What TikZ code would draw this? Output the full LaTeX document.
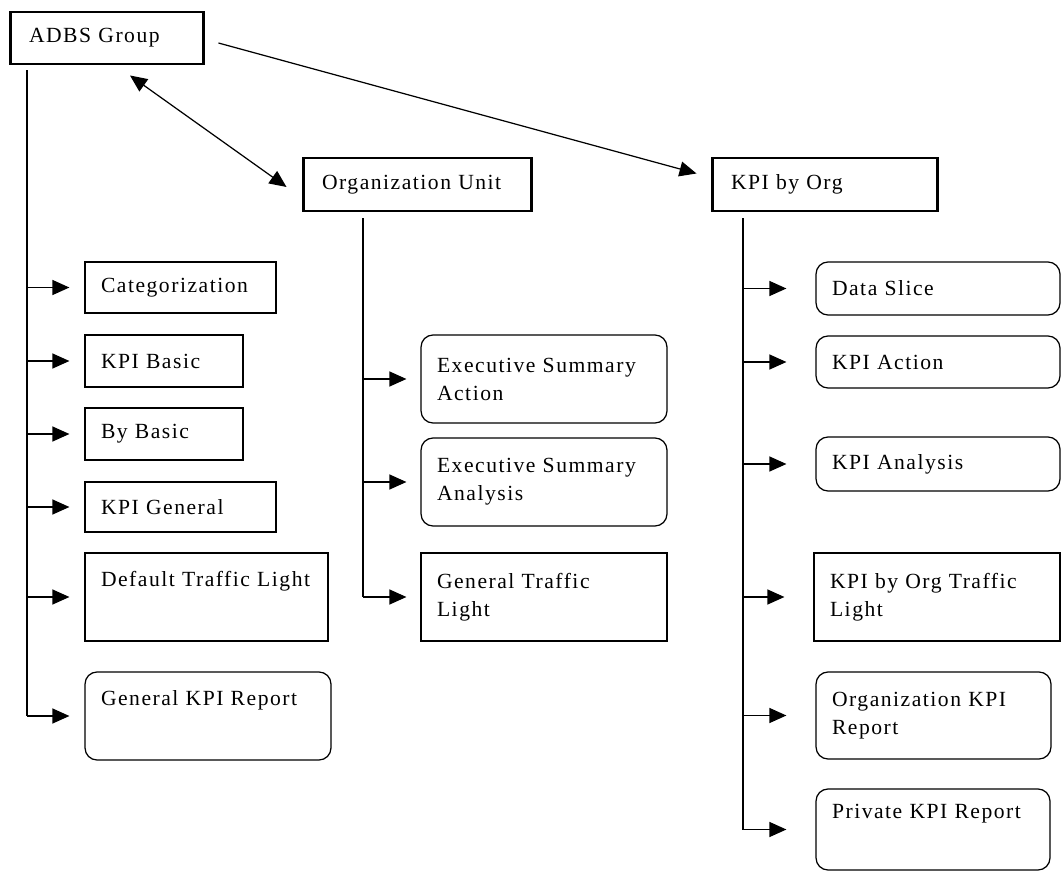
\documentclass[tikz,border=0pt]{standalone}
\usepackage{fontspec}
\setmainfont{Liberation Serif}[LetterSpace=7, WordSpace=0.6]
\usetikzlibrary{arrows.meta,positioning}

\tikzset{
    head box/.style={draw, line width=1.7pt, align=left, inner xsep=0.38cm, inner ysep=0pt},
    leaf box/.style={draw, line width=0.7pt, align=left, inner xsep=0.32cm, inner ysep=0pt},
    soft box/.style={leaf box, rounded corners=0.24cm},
    branch/.style={line width=0.7pt, -{Triangle[length=0.34cm,width=0.3cm]}},
    trunk/.style={line width=0.7pt},
}

\begin{document}
\begin{tikzpicture}[x=0.02cm, y=-0.02cm, font=\fontsize{12.3}{15.9}\selectfont]
    \useasboundingbox (0,0) rectangle (1063,872);

    \node[head box, text width=3.12cm, minimum height=1.04cm] (adbs_group) at (107,38) {ADBS Group};
    \node[head box, text width=3.82cm, minimum height=1.06cm] (org_unit) at (417.5,184.5) {Organization Unit};
    \node[head box, text width=3.76cm, minimum height=1.06cm] (kpi_org) at (825,184.5) {KPI by Org};

    \draw [branch] ([shift={(13,5)}]adbs_group.east) -- ([shift={(-14,-11)}]kpi_org.west);
    \draw [line width=0.7pt, {Triangle[length=0.34cm,width=0.3cm]}-{Triangle[length=0.34cm,width=0.3cm]}]
        ([shift={(23,10)}]adbs_group.south) -- ([shift={(-15,2.5)}]org_unit.west);

    \node[leaf box, text width=3.18cm, minimum height=1.02cm] (categorization) at (180.5,287.5) {Categorization};
    \node[leaf box, text width=2.52cm, minimum height=1.04cm] (kpi_basic) at (164,361) {KPI Basic};
    \node[leaf box, text width=2.52cm, minimum height=1.04cm] (by_basic) at (164,434) {By Basic};
    \node[leaf box, text width=3.18cm, minimum height=1.00cm] (kpi_general) at (180.5,507) {KPI General};
    \node[leaf box, text width=4.22cm, minimum height=1.76cm] (default_light) at (206.5,597) {Default Traffic Light\\ \strut};
    \node[soft box, text width=4.28cm, minimum height=1.76cm] (general_report) at (208,716) {General KPI Report\\ \strut};

    \coordinate (left_top) at (27,70);
    \draw [trunk] (left_top) -- (left_top |- general_report.west);
        \draw [branch, shorten >=0.3cm] (left_top |- categorization.west) -- (categorization.west);
        \draw [branch, shorten >=0.3cm] (left_top |- kpi_basic.west) -- (kpi_basic.west);
        \draw [branch, shorten >=0.3cm] (left_top |- by_basic.west) -- (by_basic.west);
        \draw [branch, shorten >=0.3cm] (left_top |- kpi_general.west) -- (kpi_general.west);
        \draw [branch, shorten >=0.3cm] (left_top |- default_light.west) -- (default_light.west);
        \draw [branch, shorten >=0.3cm] (left_top |- general_report.west) -- (general_report.west);

    \node[soft box, text width=4.28cm, minimum height=1.76cm] (exec_action) at (544,379) {Executive Summary\\Action};
    \node[soft box, text width=4.28cm, minimum height=1.76cm] (exec_analysis) at (544,482) {Executive Summary\\Analysis};
    \node[leaf box, text width=4.28cm, minimum height=1.76cm] (general_light) at (544,597) {General Traffic\\Light};

    \coordinate (mid_top) at (363,218);
    \draw [trunk] (mid_top) -- (mid_top |- general_light.west);
        \draw [branch, shorten >=0.28cm] (mid_top |- exec_action.west) -- (exec_action.west);
        \draw [branch, shorten >=0.28cm] (mid_top |- exec_analysis.west) -- (exec_analysis.west);
        \draw [branch, shorten >=0.28cm] (mid_top |- general_light.west) -- (general_light.west);

    \node[soft box, text width=4.24cm, minimum height=1.06cm] (data_slice) at (938,288.5) {Data Slice};
    \node[soft box, text width=4.24cm, minimum height=1.04cm] (kpi_action) at (938,362) {KPI Action};
    \node[soft box, text width=4.24cm, minimum height=1.08cm] (kpi_analysis) at (938,464) {KPI Analysis};
    \node[leaf box, text width=4.28cm, minimum height=1.76cm] (org_light) at (937,597) {KPI by Org Traffic\\Light};
    \node[soft box, text width=4.06cm, minimum height=1.74cm] (org_report) at (933.5,715.5) {Organization KPI\\Report};
    \node[soft box, text width=4.04cm, minimum height=1.62cm] (private_report) at (933,829.5) {Private KPI Report\\ \strut};

    \coordinate (right_top) at (743,218);
    \draw [trunk] (right_top) -- (right_top |- private_report.west);
        \draw [branch, shorten >=0.58cm] (right_top |- data_slice.west) -- (data_slice.west);
        \draw [branch, shorten >=0.58cm] (right_top |- kpi_action.west) -- (kpi_action.west);
        \draw [branch, shorten >=0.58cm] (right_top |- kpi_analysis.west) -- (kpi_analysis.west);
        \draw [branch, shorten >=0.58cm] (right_top |- org_light.west) -- (org_light.west);
        \draw [branch, shorten >=0.58cm] (right_top |- org_report.west) -- (org_report.west);
        \draw [branch, shorten >=0.58cm] (right_top |- private_report.west) -- (private_report.west);

\end{tikzpicture}
\end{document}
